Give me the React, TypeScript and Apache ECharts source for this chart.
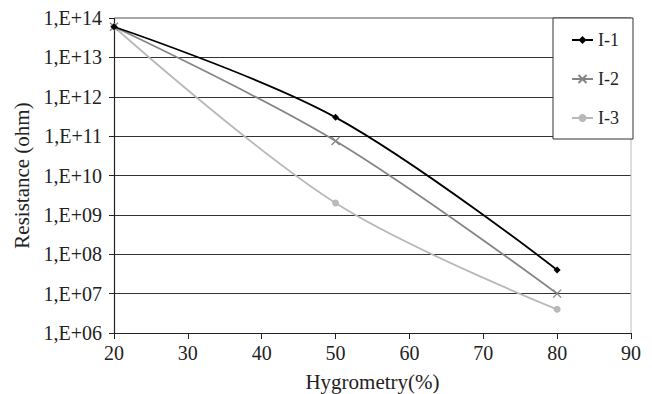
import React, { useEffect, useRef } from "react";
import * as echarts from "echarts";

const hygrometry = [20, 50, 80];
const seriesNames = ["I-1", "I-2", "I-3"];
const i1Values = [6e13, 3e11, 4e7];
const i2Values = [6e13, 7.5e10, 1e7];
const i3Values = [6e13, 2e9, 4e6];
const yTickLabels = ["1,E+06", "1,E+07", "1,E+08", "1,E+09", "1,E+10", "1,E+11", "1,E+12", "1,E+13", "1,E+14"];

const FONT = "Liberation Serif";

export default function App() {
  const ref = useRef<HTMLDivElement>(null);
  useEffect(() => {
    if (!ref.current) return;
    const chart = echarts.init(ref.current, undefined, { renderer: "svg" });
    const mk = (vals: number[]) => hygrometry.map((x, i) => [x, vals[i]]);
    const colors = ["#000000", "#858585", "#b9b9b9"];
    const symbols = ["diamond", "path://M0,0L10,10M10,0L0,10", "circle"];
    const sizes = [7, 8, 7];
    const all = [i1Values, i2Values, i3Values];
    chart.setOption({
      animation: false,
      textStyle: { fontFamily: FONT },
      grid: {
        left: 114,
        right: 21,
        top: 18,
        bottom: 61,
        show: false,
        containLabel: false,
        outerBoundsMode: "none",
      },
      legend: {
        orient: "vertical",
        right: 19,
        top: 18,
        padding: [13, 14, 12, 18],
        itemGap: 21,
        itemWidth: 21,
        itemHeight: 10,
        borderColor: "#333",
        borderWidth: 1,
        backgroundColor: "#fff",
        z: 50,
        textStyle: { fontFamily: FONT, fontSize: 18, color: "#222", lineHeight: 18 },
        data: seriesNames,
      },
      xAxis: {
        type: "value",
        min: 20,
        max: 90,
        interval: 10,
        name: "Hygrometry(%)",
        nameLocation: "middle",
        nameGap: 38,
        nameTextStyle: { fontFamily: FONT, fontSize: 21, color: "#222" },
        axisLine: { show: true, lineStyle: { color: "#222", width: 1.2 } },
        axisTick: { show: true, length: 6, lineStyle: { color: "#222" } },
        axisLabel: { fontFamily: FONT, fontSize: 20, color: "#222", margin: 10 },
        splitLine: { show: false },
      },
      yAxis: {
        type: "log",
        logBase: 10,
        min: 1e6,
        max: 1e14,
        name: "Resistance (ohm)",
        nameLocation: "middle",
        nameGap: 82,
        nameTextStyle: { fontFamily: FONT, fontSize: 21, color: "#222" },
        axisLine: { show: true, lineStyle: { color: "#222", width: 1.2 } },
        axisTick: { show: true, length: 5, lineStyle: { color: "#222" } },
        axisLabel: {
          fontFamily: FONT,
          fontSize: 20,
          color: "#222",
          margin: 12,
          formatter: (v: number) => {
            const e = Math.round(Math.log10(v));
            return yTickLabels[e - 6] ?? "";
          },
        },
        splitLine: {
          show: true,
          lineStyle: { color: "#333", width: 1.2 },
        },
      },
      graphic: [
        {
          type: "line",
          z: 20,
          shape: { x1: 115, y1: 18, x2: 631, y2: 18 },
          style: { stroke: "#a8a8a8", lineWidth: 2 },
        },
        {
          type: "line",
          z: 20,
          shape: { x1: 631, y1: 18, x2: 631, y2: 333 },
          style: { stroke: "#bbb", lineWidth: 1 },
        },
      ],
      series: seriesNames.map((name, k) => ({
        name,
        type: "line",
        data: mk(all[k]),
        smooth: 0.35,
        symbol: symbols[k],
        symbolSize: sizes[k],
        showSymbol: true,
        lineStyle: { color: colors[k], width: 1.8 },
        itemStyle: { color: colors[k], borderColor: colors[k], borderWidth: k === 1 ? 1.3 : 0 },
        z: 30 - k,
      })),
    });
    return () => chart.dispose();
  }, []);
  return <div ref={ref} style={{ width: 652, height: 394, position: "absolute", left: 0, top: 0 }} />;
}
